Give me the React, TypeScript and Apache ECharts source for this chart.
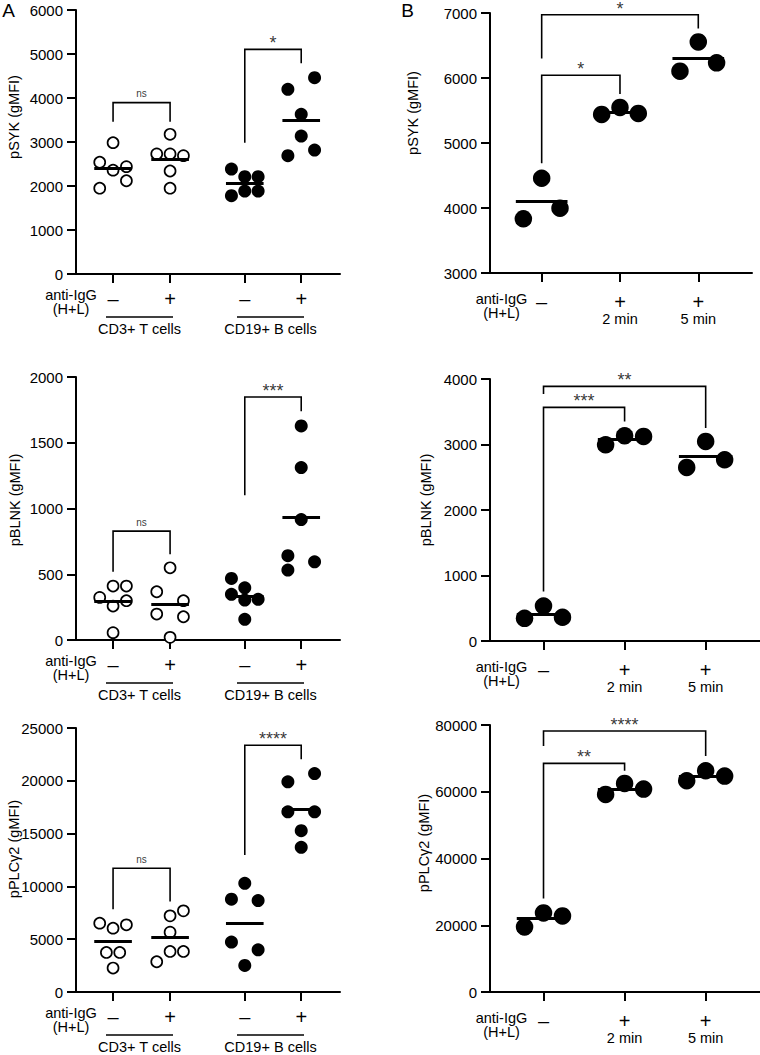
import React, { useEffect, useRef } from "react";
import * as echarts from "echarts";

const FONT = "'Liberation Sans', Arial, Helvetica, sans-serif";

// ---------------- data ----------------
const A_STIM = ["–", "+", "–", "+"];
const A_CELLS = ["CD3+ T cells", "CD19+ B cells"];
const B_STIM = ["–", "+", "+"];
const B_TIME = ["", "2 min", "5 min"];
const STIM_ROW_LABEL = "anti-IgG\n(H+L)";

// Panel A – pSYK
const A_pSYK = [
  [2985, 2540, 2360, 2440, 2120, 1950],
  [3175, 2730, 2730, 2690, 2340, 1950],
  [2386, 2212, 2212, 1780, 1886, 1886],
  [4462, 4197, 3629, 3136, 2689, 2818],
];
const A_pSYK_jitter = [
  [0, -1, 0, 1, 1, -1],
  [0, -1, 0, 1, 0, 0],
  [-1, 0, 1, -1, 0, 1],
  [1, -1, 0, 0, -1, 1],
];
const A_pSYK_sig = [
  { from: 0, to: 1, top: 3894, left: 3462, right: 3462, label: "ns" },
  { from: 2, to: 3, top: 5106, left: 2985, right: 4788, label: "*" },
];

// Panel A – pBLNK
const A_pBLNK = [
  [410, 410, 324, 299, 258, 56],
  [549, 367, 299, 197, 177, 20],
  [468, 397, 347, 304, 309, 157],
  [1628, 1311, 916, 641, 532, 595],
];
const A_pBLNK_jitter = [
  [0, 1, -1, 1, 0, 0],
  [0, -1, 1, -1, 1, 0],
  [-1, 0, -1, 0, 1, 0],
  [0, 0, 0, -1, -1, 1],
];
const A_pBLNK_sig = [
  { from: 0, to: 1, top: 828, left: 519, right: 653, label: "ns" },
  { from: 2, to: 3, top: 1848, left: 1101, right: 1739, label: "***" },
];

// Panel A – pPLCγ2
const A_pPLC = [
  [6518, 6045, 6360, 3747, 3747, 2267],
  [7683, 7210, 5668, 2865, 3841, 3841],
  [10296, 8785, 8659, 4723, 3999, 2519],
  [20686, 19899, 17065, 17065, 15271, 13696],
];
const A_pPLC_jitter = [
  [-1, 0, 1, -0.5, 0.5, 0],
  [1, 0, 0, -1, 0, 1],
  [0, -1, 1, -1, 1, 0],
  [1, -1, -1, 1, 0, 0],
];
const A_pPLC_sig = [
  { from: 0, to: 1, top: 11713, left: 7840, right: 8564, label: "ns" },
  { from: 2, to: 3, top: 23363, left: 12972, right: 22040, label: "****" },
];

// Panel B – pSYK
const B_pSYK = [
  [4458, 3834, 3997],
  [5440, 5547, 5455],
  [6555, 6105, 6233],
];
const B_pSYK_jitter = [
  [0, -1, 1],
  [-1, 0, 1],
  [0, -1, 1],
];
const B_pSYK_sig = [
  { from: 0, to: 1, top: 6043, left: 4688, right: 5752, label: "*" },
  { from: 0, to: 2, top: 6974, left: 6299, right: 6760, label: "*" },
];

// Panel B – pBLNK
const B_pBLNK = [
  [535, 346, 362],
  [2996, 3134, 3124],
  [3047, 2650, 2767],
];
const B_pBLNK_jitter = [
  [0, -1, 1],
  [-1, 0, 1],
  [0, -1, 1],
];
const B_pBLNK_sig = [
  { from: 0, to: 1, top: 3567, left: 754, right: 3353, label: "***" },
  { from: 0, to: 2, top: 3888, left: 3771, right: 3251, label: "**" },
];

// Panel B – pPLCγ2
const B_pPLC = [
  [19500, 23700, 22800],
  [59200, 62500, 60800],
  [63300, 66300, 64700],
];
const B_pPLC_jitter = [
  [-1, 0, 1],
  [-1, 0, 1],
  [-1, 0, 1],
];
const B_pPLC_sig = [
  { from: 0, to: 1, top: 68500, left: 28000, right: 66300, label: "**" },
  { from: 0, to: 2, top: 78200, left: 73700, right: 70700, label: "****" },
];

// ---------------- layout ----------------
const A_POS = [0.65, 1.65, 2.96, 3.95];
const B_POS = [0.66, 1.66, 2.66];
const JIT = 0.234;
const HALF_MEAN = 0.33;

type Sig = { from: number; to: number; top: number; left: number; right: number; label: string };
type Panel = {
  grid: { left: number; top: number; width: number; height: number };
  xMax: number;
  pos: number[];
  yMin: number;
  yMax: number;
  yInt: number;
  title: string;
  titleXY: [number, number];
  values: number[][];
  jitter: number[][];
  filled: boolean[];
  size: number;
  sig: Sig[];
  stim: string[];
  time: string[] | null;
  labelMargin: number;
  antiXY: [number, number];
};

const panels: Panel[] = [
  {
    grid: { left: 76, top: 10, width: 264, height: 264 }, xMax: 4.63, pos: A_POS,
    yMin: 0, yMax: 6000, yInt: 1000, title: "pSYK (gMFI)", titleXY: [14, 117],
    values: A_pSYK, jitter: A_pSYK_jitter, filled: [false, false, true, true], size: 13,
    sig: A_pSYK_sig, stim: A_STIM, time: null, labelMargin: 15, antiXY: [71, 302],
  },
  {
    grid: { left: 76, top: 377, width: 264, height: 263 }, xMax: 4.63, pos: A_POS,
    yMin: 0, yMax: 2000, yInt: 500, title: "pBLNK (gMFI)", titleXY: [14.5, 500],
    values: A_pBLNK, jitter: A_pBLNK_jitter, filled: [false, false, true, true], size: 13,
    sig: A_pBLNK_sig, stim: A_STIM, time: null, labelMargin: 15, antiXY: [71, 668],
  },
  {
    grid: { left: 76, top: 728, width: 264, height: 264 }, xMax: 4.63, pos: A_POS,
    yMin: 0, yMax: 25000, yInt: 5000, title: "pPLCγ2 (gMFI)", titleXY: [14, 849],
    values: A_pPLC, jitter: A_pPLC_jitter, filled: [false, false, true, true], size: 13,
    sig: A_pPLC_sig, stim: A_STIM, time: null, labelMargin: 15, antiXY: [71, 1020],
  },
  {
    grid: { left: 490, top: 13, width: 262, height: 260 }, xMax: 3.346, pos: B_POS,
    yMin: 3000, yMax: 7000, yInt: 1000, title: "pSYK (gMFI)", titleXY: [412.5, 113],
    values: B_pSYK, jitter: B_pSYK_jitter, filled: [true, true, true], size: 17.5,
    sig: B_pSYK_sig, stim: B_STIM, time: B_TIME, labelMargin: 19, antiXY: [501.5, 306],
  },
  {
    grid: { left: 490, top: 379, width: 270, height: 262 }, xMax: 3.33, pos: B_POS,
    yMin: 0, yMax: 4000, yInt: 1000, title: "pBLNK (gMFI)", titleXY: [426, 500],
    values: B_pBLNK, jitter: B_pBLNK_jitter, filled: [true, true, true], size: 17.5,
    sig: B_pBLNK_sig, stim: B_STIM, time: B_TIME, labelMargin: 19, antiXY: [501.5, 674],
  },
  {
    grid: { left: 490, top: 725, width: 270, height: 267 }, xMax: 3.33, pos: B_POS,
    yMin: 0, yMax: 80000, yInt: 20000, title: "pPLCγ2 (gMFI)", titleXY: [424, 843],
    values: B_pPLC, jitter: B_pPLC_jitter, filled: [true, true, true], size: 17.5,
    sig: B_pPLC_sig, stim: B_STIM, time: B_TIME, labelMargin: 19, antiXY: [501.5, 1025],
  },
];

const mean = (a: number[]) => a.reduce((s, v) => s + v, 0) / a.length;

function buildOption() {
  const grid: any[] = [];
  const xAxis: any[] = [];
  const yAxis: any[] = [];
  const series: any[] = [];
  const graphic: any[] = [];

  panels.forEach((p, i) => {
    grid.push({ ...p.grid, containLabel: false, outerBoundsMode: "none" });
    xAxis.push({
      type: "value",
      gridIndex: i,
      min: 0,
      max: p.xMax,
      axisLine: { show: true, onZero: false, lineStyle: { color: "#000", width: 2 } },
      splitLine: { show: false },
      axisTick: { show: true, customValues: p.pos, length: 9, lineStyle: { color: "#000", width: 2 } },
      axisLabel: {
        show: true,
        customValues: p.pos,
        margin: p.labelMargin,
        color: "#000",
        fontFamily: FONT,
        formatter: (v: number) => {
          let idx = 0;
          let best = Infinity;
          p.pos.forEach((q, k) => {
            if (Math.abs(q - v) < best) { best = Math.abs(q - v); idx = k; }
          });
          const s = `{pm|${p.stim[idx]}}`;
          if (p.time && p.time[idx]) return `${s}\n{t|${p.time[idx]}}`;
          return s;
        },
        rich: {
          pm: { fontSize: 20, lineHeight: 20, color: "#000", fontFamily: FONT },
          t: { fontSize: 14.5, lineHeight: 14, color: "#000", fontFamily: FONT },
        },
      },
    });
    yAxis.push({
      type: "value",
      gridIndex: i,
      min: p.yMin,
      max: p.yMax,
      interval: p.yInt,
      axisLine: { show: true, lineStyle: { color: "#000", width: 2 } },
      axisTick: { show: true, length: 9, lineStyle: { color: "#000", width: 2 } },
      axisLabel: {
        margin: 13, fontSize: 15, color: "#000", fontFamily: FONT,
        formatter: (v: number) => String(v),
      },
      splitLine: { show: false },
    });

    // points
    [false, true].forEach((fill) => {
      const data: number[][] = [];
      p.values.forEach((vals, g) => {
        if (p.filled[g] !== fill) return;
        vals.forEach((v, k) => data.push([p.pos[g] + p.jitter[g][k] * JIT, v]));
      });
      if (!data.length) return;
      series.push({
        type: "scatter",
        xAxisIndex: i,
        yAxisIndex: i,
        data,
        symbol: "circle",
        symbolSize: fill ? p.size : p.size - 2,
        itemStyle: fill
          ? { color: "#000", opacity: 1 }
          : { color: "#fff", borderColor: "#000", borderWidth: 1.7, opacity: 1 },
        z: 2,
        silent: true,
      });
    });

    // mean lines
    series.push({
      type: "lines",
      coordinateSystem: "cartesian2d",
      xAxisIndex: i,
      yAxisIndex: i,
      data: p.values.map((vals, g) => ({
        coords: [
          [p.pos[g] - HALF_MEAN, mean(vals)],
          [p.pos[g] + HALF_MEAN, mean(vals)],
        ],
      })),
      lineStyle: { color: "#000", width: 3, opacity: 1 },
      z: 4,
      silent: true,
    });

    // significance brackets
    series.push({
      type: "lines",
      coordinateSystem: "cartesian2d",
      polyline: true,
      xAxisIndex: i,
      yAxisIndex: i,
      data: p.sig.map((b) => ({
        coords: [
          [p.pos[b.from], b.left],
          [p.pos[b.from], b.top],
          [p.pos[b.to], b.top],
          [p.pos[b.to], b.right],
        ],
      })),
      lineStyle: { color: "#000", width: 1.6, opacity: 1 },
      z: 3,
      silent: true,
    });
    series.push({
      type: "scatter",
      xAxisIndex: i,
      yAxisIndex: i,
      symbolSize: 0,
      itemStyle: { color: "transparent" },
      silent: true,
      clip: false,
      z: 5,
      data: p.sig.map((b) => ({
        value: [(p.pos[b.from] + p.pos[b.to]) / 2, b.top],
        label: {
          show: true,
          position: "inside",
          formatter: b.label,
          color: "#000",
          fontFamily: FONT,
          fontSize: b.label === "ns" ? 10 : 18,
          offset: b.label === "ns" ? [0, -9] : [0, -6],
        },
      })),
    });

    // y-axis title
    graphic.push({
      type: "text",
      x: p.titleXY[0],
      y: p.titleXY[1],
      rotation: Math.PI / 2,
      style: {
        text: p.title, fontSize: 14.5, fontFamily: FONT, fill: "#000",
        align: "center", verticalAlign: "middle",
      },
    });
    // stimulation row label
    graphic.push({
      type: "text",
      x: p.antiXY[0],
      y: p.antiXY[1],
      style: {
        text: STIM_ROW_LABEL, fontSize: 14.5, lineHeight: 14, fontFamily: FONT, fill: "#000",
        align: "center", verticalAlign: "middle",
      },
    });

    // cell-type rows for panel A
    if (!p.time) {
      const base = p.grid.top + p.grid.height;
      const spans = [
        [106, 173],
        [237, 304],
      ];
      spans.forEach((s, k) => {
        graphic.push({
          type: "line",
          shape: { x1: s[0], y1: base + 43, x2: s[1], y2: base + 43 },
          style: { stroke: "#000", lineWidth: 1.5 },
        });
        graphic.push({
          type: "text",
          x: (s[0] + s[1]) / 2,
          y: base + 55,
          style: {
            text: A_CELLS[k], fontSize: 14.5, fontFamily: FONT, fill: "#000",
            align: "center", verticalAlign: "middle",
          },
        });
      });
    }
  });

  graphic.push({
    type: "text", x: 8.5, y: 10,
    style: { text: "A", fontSize: 19, fontFamily: FONT, fill: "#000", align: "center", verticalAlign: "middle" },
  });
  graphic.push({
    type: "text", x: 407.5, y: 10,
    style: { text: "B", fontSize: 19, fontFamily: FONT, fill: "#000", align: "center", verticalAlign: "middle" },
  });

  return {
    animation: false,
    backgroundColor: "#fff",
    textStyle: { fontFamily: FONT, color: "#000" },
    grid,
    xAxis,
    yAxis,
    series,
    graphic,
  };
}

export default function App() {
  const ref = useRef<HTMLDivElement>(null);
  useEffect(() => {
    document.body.style.margin = "0";
    if (!ref.current) return;
    const chart = echarts.init(ref.current, undefined, { renderer: "svg" });
    chart.setOption(buildOption() as any);
    return () => chart.dispose();
  }, []);
  return (
    <div
      ref={ref}
      style={{ position: "absolute", left: 0, top: 0, width: 760, height: 1055, background: "#fff" }}
    />
  );
}
